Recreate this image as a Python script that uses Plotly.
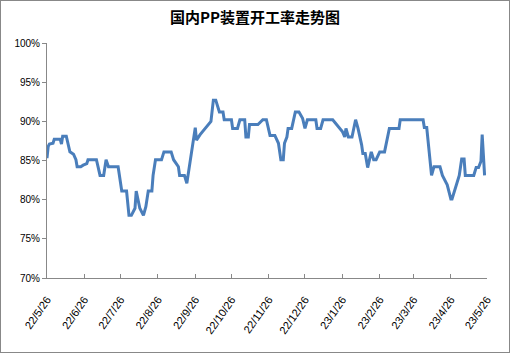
import plotly.graph_objects as go

dates = [
    "2022-05-26", "2022-05-27", "2022-05-28", "2022-05-31", "2022-06-01", "2022-06-06",
    "2022-06-07", "2022-06-08", "2022-06-11", "2022-06-14", "2022-06-17", "2022-06-19",
    "2022-06-20", "2022-06-23", "2022-06-25", "2022-06-28", "2022-06-29", "2022-07-06",
    "2022-07-09", "2022-07-12", "2022-07-14", "2022-07-16", "2022-07-24", "2022-07-27",
    "2022-07-31", "2022-08-02", "2022-08-04", "2022-08-07", "2022-08-08", "2022-08-11",
    "2022-08-14", "2022-08-16", "2022-08-18", "2022-08-21", "2022-08-22", "2022-08-24",
    "2022-08-29", "2022-08-31", "2022-09-06", "2022-09-08", "2022-09-12", "2022-09-13",
    "2022-09-17", "2022-09-19", "2022-09-26", "2022-09-27", "2022-09-30", "2022-10-09",
    "2022-10-11", "2022-10-13", "2022-10-16", "2022-10-19", "2022-10-20", "2022-10-26",
    "2022-10-27", "2022-10-31", "2022-11-02", "2022-11-06", "2022-11-07", "2022-11-09",
    "2022-11-10", "2022-11-17", "2022-11-21", "2022-11-24", "2022-11-27", "2022-12-01",
    "2022-12-04", "2022-12-06", "2022-12-08", "2022-12-09", "2022-12-11", "2022-12-12",
    "2022-12-15", "2022-12-18", "2022-12-21", "2022-12-24", "2022-12-26", "2022-12-28",
    "2023-01-04", "2023-01-05", "2023-01-08", "2023-01-10", "2023-01-18", "2023-01-23",
    "2023-01-26", "2023-01-28", "2023-01-29", "2023-01-31", "2023-02-03", "2023-02-06",
    "2023-02-08", "2023-02-11", "2023-02-12", "2023-02-14", "2023-02-16", "2023-02-19",
    "2023-02-21", "2023-02-23", "2023-02-26", "2023-03-02", "2023-03-06", "2023-03-14",
    "2023-03-15", "2023-04-03", "2023-04-04", "2023-04-06", "2023-04-10", "2023-04-12",
    "2023-04-17", "2023-04-19", "2023-04-21", "2023-04-23", "2023-04-26", "2023-04-27",
    "2023-05-03", "2023-05-05", "2023-05-07", "2023-05-08", "2023-05-15", "2023-05-17",
    "2023-05-19", "2023-05-21", "2023-05-22", "2023-05-24",
]

rates = [
    85.3, 86.8, 87.1, 87.2, 87.7, 87.7,
    87.1, 88.1, 88.1, 86.1, 85.8, 85.1,
    84.2, 84.2, 84.4, 84.6, 85.1, 85.1,
    83.1, 83.1, 85.1, 84.2, 84.2, 81.1,
    81.1, 78.0, 78.0, 78.9, 81.1, 78.9,
    78.0, 79.1, 81.1, 81.1, 83.1, 85.1,
    85.1, 86.1, 86.1, 85.1, 84.2, 83.1,
    83.1, 82.1, 89.2, 87.6, 88.3, 90.0,
    92.7, 92.7, 91.2, 91.2, 90.2, 90.2,
    89.1, 89.1, 90.2, 90.2, 88.0, 88.0,
    89.6, 89.6, 90.2, 90.2, 88.2, 88.2,
    87.2, 85.1, 85.1, 87.2, 88.0, 89.1,
    89.1, 91.2, 91.2, 90.4, 89.1, 90.2,
    90.2, 89.1, 89.1, 90.2, 90.2, 89.3,
    88.7, 88.0, 89.1, 88.0, 88.0, 90.2,
    89.1, 87.0, 85.9, 85.9, 84.1, 86.1,
    85.1, 85.1, 86.1, 86.1, 89.1, 89.1,
    90.2, 90.2, 89.2, 89.2, 83.1, 84.2,
    84.2, 83.1, 82.5, 81.9, 80.1, 80.1,
    83.1, 85.2, 85.2, 83.1, 83.1, 84.1,
    84.1, 84.9, 88.3, 83.1,
]

tick_dates = [
    "2022-05-26", "2022-06-26", "2022-07-26", "2022-08-26", "2022-09-26",
    "2022-10-26", "2022-11-26", "2022-12-26", "2023-01-26", "2023-02-26",
    "2023-03-26", "2023-04-26", "2023-05-26",
]
tick_labels = [
    "22/5/26", "22/6/26", "22/7/26", "22/8/26", "22/9/26", "22/10/26",
    "22/11/26", "22/12/26", "23/1/26", "23/2/26", "23/3/26", "23/4/26", "23/5/26",
]
y_ticks = [70, 75, 80, 85, 90, 95, 100]
y_labels = [f"{v}%" for v in y_ticks]
title = "国内PP装置开工率走势图"

fig = go.Figure()
fig.add_trace(go.Scatter(
    x=dates, y=rates, mode="lines",
    line=dict(color="#4A7EBB", width=3),
    showlegend=False, hoverinfo="skip",
))

fig.update_layout(
    width=510, height=353,
    margin=dict(l=47, r=23, t=43, b=75),
    paper_bgcolor="white", plot_bgcolor="white",
    title=dict(text=f"<b>{title}</b>", x=0.5, xanchor="center", y=0.95, yanchor="middle",
               font=dict(family="Noto Sans CJK SC", size=15, color="black")),
    font=dict(family="Liberation Sans", size=10, color="black"),
    shapes=[dict(type="rect", xref="paper", yref="paper", x0=-47/440, x1=1+23/440,
                 y0=-75/235, y1=1+43/235, line=dict(color="#888888", width=2),
                 fillcolor="rgba(0,0,0,0)", layer="below")],
)

fig.update_xaxes(
    type="date", range=["2022-05-26", "2023-05-26"],
    tickmode="array", tickvals=tick_dates, ticktext=tick_labels,
    tickangle=-55, ticks="inside", ticklen=4, tickcolor="#888888",
    ticklabelstandoff=10,
    showline=True, linecolor="#888888", linewidth=1,
    showgrid=False, zeroline=False,
    tickfont=dict(family="Liberation Sans", size=11, color="black"),
)
fig.update_yaxes(
    range=[70, 100], tickmode="array", tickvals=y_ticks, ticktext=y_labels,
    ticks="outside", ticklen=4, tickcolor="#888888",
    showline=True, linecolor="#888888", linewidth=1,
    showgrid=False, zeroline=False,
    tickfont=dict(family="Liberation Sans", size=10, color="black"),
)

fig.write_html("out.html")
